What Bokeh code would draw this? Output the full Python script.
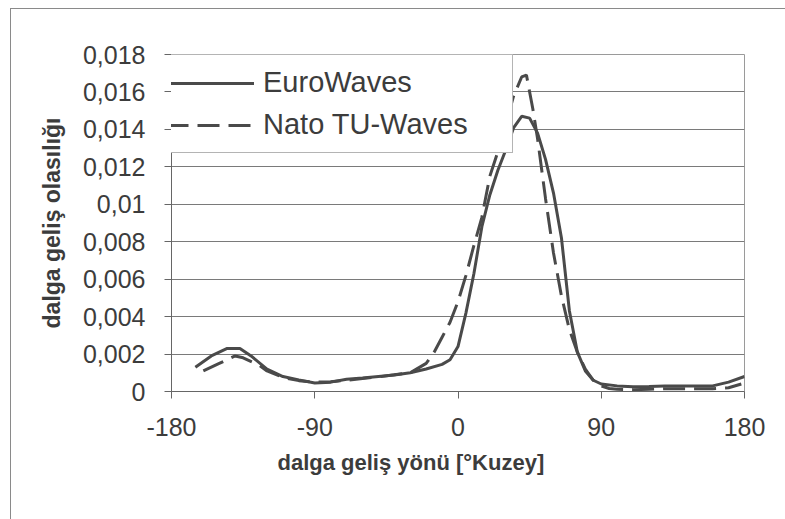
from bokeh.plotting import figure
from bokeh.models import Legend, LegendItem, FixedTicker, Title
from bokeh.embed import file_html
from bokeh.resources import INLINE

# EuroWaves (solid)
euro_x = [-165, -155, -145, -137, -130, -120, -110, -100, -90, -80, -70, -60, -50, -40, -30, -20, -10, -5, 0,
          5, 10, 15, 20, 25, 30, 35, 40, 45, 50, 55, 60, 65, 70, 75, 80, 85, 90, 100, 110, 120, 130, 140, 150,
          160, 170, 180]
euro_y = [0.0013, 0.0019, 0.0023, 0.0023, 0.0019, 0.0012, 0.0008, 0.00062, 0.00045, 0.0005, 0.00065, 0.00072,
          0.0008, 0.00088, 0.001, 0.0012, 0.00145, 0.0017, 0.0024,
          0.0042, 0.0063, 0.0088, 0.0105, 0.0118, 0.0129, 0.0141, 0.0147, 0.0146, 0.0138, 0.0124, 0.0106,
          0.0082, 0.0043, 0.0021, 0.0011, 0.0006, 0.0004, 0.0003, 0.00025, 0.00027, 0.0003, 0.0003, 0.0003,
          0.0003, 0.0005, 0.0008]

# Nato TU-Waves (dashed)
nato_x = [-160, -150, -140, -135, -125, -120, -110, -100, -90, -80, -70, -60, -50, -40, -30, -20, -15, -10, -5,
          0, 5, 10, 15, 20, 25, 30, 35, 40, 43, 47, 50, 55, 60, 65, 70, 75, 80, 85, 90, 95, 100, 110, 120, 130,
          140, 150, 160, 170, 178]
nato_y = [0.0011, 0.0015, 0.0019, 0.0018, 0.0014, 0.0011, 0.00075, 0.00058, 0.0005, 0.00052, 0.0006, 0.0007,
          0.00078, 0.0009, 0.001, 0.0015, 0.0021, 0.0029, 0.0037,
          0.0048, 0.0062, 0.0078, 0.0093, 0.0115, 0.0128, 0.0143, 0.0158, 0.0168, 0.0169, 0.0151, 0.0135,
          0.0103, 0.0074, 0.0051, 0.0033, 0.0021, 0.0012, 0.0006, 0.0003, 0.00016, 0.00012, 0.0001, 0.00012,
          0.00015, 0.00015, 0.00015, 0.00015, 0.0002, 0.0004]

series_names = ["EuroWaves", "Nato TU-Waves"]
x_ticks = [-180, -90, 0, 90, 180]
x_tick_labels = ["-180", "-90", "0", "90", "180"]
y_ticks = [0, 0.002, 0.004, 0.006, 0.008, 0.01, 0.012, 0.014, 0.016, 0.018]
y_tick_labels = ["0", "0,002", "0,004", "0,006", "0,008", "0,01", "0,012", "0,014", "0,016", "0,018"]
x_title = "dalga geliş yönü [°Kuzey]"
y_title = "dalga geliş olasılığı"

FONT = "Liberation Sans"
TXT = "#3c3c3c"
LINE = "#4a4a4a"

p = figure(width=775, height=511, output_backend="svg", toolbar_location=None,
           x_range=(-180, 180), y_range=(0, 0.018),
           min_border_left=160, min_border_right=42, min_border_top=45, min_border_bottom=129)
p.styles = {"margin-left": "10px", "margin-top": "8px",
            "border-left": "1px solid #8a8a8a", "border-top": "1px solid #8a8a8a"}

r1 = p.line(euro_x, euro_y, line_color=LINE, line_width=3)
r2 = p.line(nato_x, nato_y, line_color=LINE, line_width=3, line_dash="22 9")

p.xaxis.ticker = FixedTicker(ticks=x_ticks)
p.yaxis.ticker = FixedTicker(ticks=y_ticks)
p.xaxis.major_label_overrides = {t: l for t, l in zip(x_ticks, x_tick_labels)}
p.yaxis.major_label_overrides = {t: l for t, l in zip(y_ticks, y_tick_labels)}

for ax in (p.xaxis[0], p.yaxis[0]):
    ax.axis_line_color = "#666666"
    ax.major_tick_line_color = "#666666"
    ax.major_tick_in = 0
    ax.major_tick_out = 7
    ax.minor_tick_line_color = None
    ax.major_label_text_font = FONT
    ax.major_label_text_font_size = "25px"
    ax.major_label_text_color = TXT
    ax.axis_label_text_font = FONT
    ax.axis_label_text_font_style = "bold"
    ax.axis_label_text_color = TXT

p.yaxis.axis_label = y_title
p.yaxis.axis_label_text_font_size = "23px"
p.xaxis.major_label_standoff = 19
p.yaxis.major_label_standoff = 19
p.yaxis.axis_label_standoff = 15

xt = Title(text=x_title, align="left", offset=106, standoff=18,
           text_font=FONT, text_font_style="bold", text_font_size="22px", text_color=TXT)
p.add_layout(xt, "below")

p.xgrid.grid_line_color = None
p.ygrid.grid_line_color = "#7a7a7a"
p.ygrid.grid_line_width = 1
p.outline_line_color = "#9a9a9a"
p.outline_line_width = 1

legend = Legend(items=[LegendItem(label=series_names[0], renderers=[r1]),
                       LegendItem(label=series_names[1], renderers=[r2])],
                location=(-17, 238), padding=11, spacing=9, glyph_width=88, label_standoff=9,
                label_width=238,
                label_text_font=FONT, label_text_font_size="29px", label_text_color=TXT,
                border_line_color="#6a6a6a", border_line_width=1, background_fill_alpha=1,
                margin=0)
p.add_layout(legend, "center")

open("out.html", "w").write(file_html(p, INLINE))
